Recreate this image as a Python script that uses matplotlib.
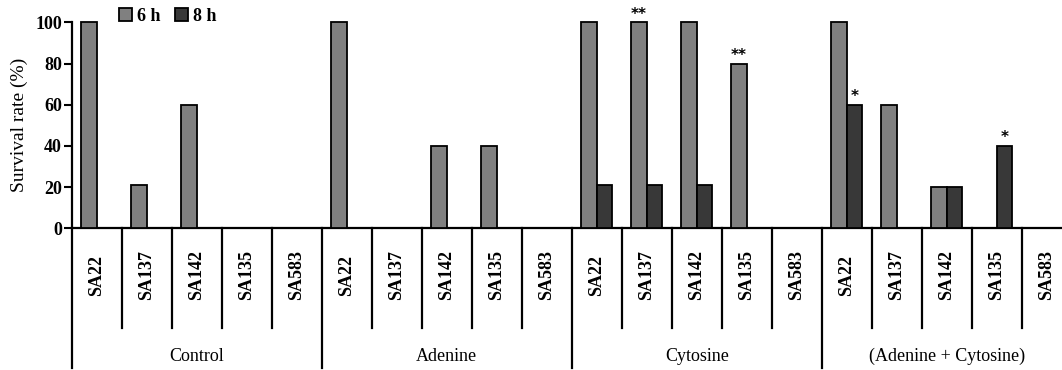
import numpy as np
import matplotlib
matplotlib.use("Agg")
import matplotlib.pyplot as plt
from matplotlib.patches import Patch

# Data
groups = ["Control", "Adenine", "Cytosine", "(Adenine + Cytosine)"]
strains = ["SA22", "SA137", "SA142", "SA135", "SA583"]
surv_6h = [100, 21, 60, 0, 0,
           100, 0, 40, 40, 0,
           100, 100, 100, 80, 0,
           100, 60, 20, 0, 0]
surv_8h = [0, 0, 0, 0, 0,
           0, 0, 0, 0, 0,
           21, 21, 21, 0, 0,
           60, 0, 20, 40, 0]
# significance marks (slot index -> text)
marks_6h = {11: "**", 13: "**"}
marks_8h = {15: "*", 18: "*"}
yticks = [0, 20, 40, 60, 80, 100]

COLOR_6H = "#808080"
COLOR_8H = "#383838"
BAR_W = 0.31

plt.rcParams['font.family'] = ['Liberation Serif', 'DejaVu Serif']

fig = plt.figure(figsize=(10.62, 3.70), dpi=100)
# axes runs a little past the right edge, like the original
ax = fig.add_axes([71.7 / 1062, 141.7 / 370, 1000 / 1062, 206 / 370])

n = len(surv_6h)
x = np.arange(n) + 0.5

ax.bar(x - BAR_W / 2, surv_6h, BAR_W, color=COLOR_6H, edgecolor="black",
       linewidth=1.3, clip_on=False, zorder=3)
ax.bar(x + BAR_W / 2, surv_8h, BAR_W, color=COLOR_8H, edgecolor="black",
       linewidth=1.3, clip_on=False, zorder=3)

# stars sit ~11 px above the bar top
for i, s in marks_6h.items():
    ax.text(x[i] - BAR_W / 2, surv_6h[i] + 4.0, s, ha="center", va="center",
            fontsize=11, fontweight="bold", family="DejaVu Sans")
for i, s in marks_8h.items():
    ax.text(x[i] + BAR_W / 2, surv_8h[i] + 4.0, s, ha="center", va="center",
            fontsize=11, fontweight="bold", family="DejaVu Sans")

ax.set_xlim(0, n)
ax.set_ylim(0, 100)
ax.set_yticks(yticks)
ax.set_yticklabels([str(t) for t in yticks], fontsize=13, fontweight="bold")
ax.tick_params(axis="y", length=6, width=1.5, pad=1)
ax.set_xticks([])
ax.set_ylabel("Survival rate (%)", fontsize=14, labelpad=5)

for side in ["top", "right"]:
    ax.spines[side].set_visible(False)
ax.spines["left"].set_linewidth(1.6)
ax.spines["bottom"].set_linewidth(1.6)

# table-like category axis below the plot
short_y = -48.4
long_y = -67.8
for b in range(n + 1):
    y_end = long_y if b % len(strains) == 0 else short_y
    ax.plot([b, b], [0, y_end], color="black", linewidth=1.6, clip_on=False)

for i in range(n):
    ax.text(x[i], -22.7, strains[i % len(strains)], rotation=90, ha="center",
            va="center", fontsize=13, fontweight="bold")

for g, name in enumerate(groups):
    ax.text(g * len(strains) + len(strains) / 2, -62, name, ha="center",
            va="center", fontsize=13)

handles = [Patch(facecolor=COLOR_6H, edgecolor="black", linewidth=1.3, label="6 h"),
           Patch(facecolor=COLOR_8H, edgecolor="black", linewidth=1.3, label="8 h")]
leg = fig.legend(handles=handles, loc="upper left", bbox_to_anchor=(119 / 1062, 1 - 8 / 370),
                 ncol=2, frameon=False, handlelength=0.7, handleheight=0.7,
                 handletextpad=0.3, columnspacing=0.8, borderpad=0, borderaxespad=0,
                 prop={"size": 13, "weight": "bold"})

fig.savefig("out.png", dpi=100)
